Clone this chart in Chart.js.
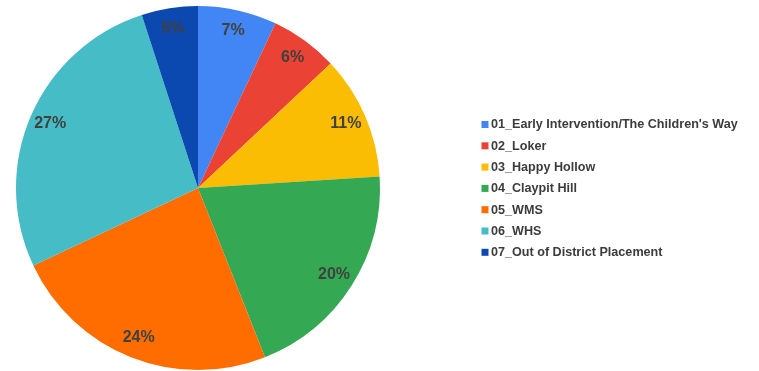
<!DOCTYPE html>
<html>
<head>
<meta charset="utf-8">
<script src="https://cdn.jsdelivr.net/npm/chart.js@4"></script>
<style>
  html, body { margin: 0; padding: 0; background: #ffffff; }
  #wrap { width: 759px; height: 371px; position: relative; }
</style>
</head>
<body>
<div id="wrap"><canvas id="chart" width="759" height="371"></canvas></div>
<script>
// Share of enrollment by school
const categories = [
  "01_Early Intervention/The Children's Way",
  "02_Loker",
  "03_Happy Hollow",
  "04_Claypit Hill",
  "05_WMS",
  "06_WHS",
  "07_Out of District Placement"
];
const shares = [7, 6, 11, 20, 24, 27, 5];
const sliceColors = ["#4285f4", "#ea4335", "#fbbc04", "#34a853", "#ff6d01", "#46bdc6", "#0b48b0"];

// Percent labels placed inside each slice, near the rim
const sliceLabels = {
  id: 'sliceLabels',
  afterDatasetsDraw(chart) {
    const ctx = chart.ctx;
    const meta = chart.getDatasetMeta(0);
    const total = shares.reduce((a, b) => a + b, 0);
    ctx.save();
    ctx.font = 'bold 16px "Liberation Sans", Arial, sans-serif';
    ctx.fillStyle = '#404040';
    ctx.textAlign = 'center';
    ctx.textBaseline = 'middle';
    meta.data.forEach((arc, i) => {
      const p = arc.getProps(['x', 'y', 'startAngle', 'endAngle', 'outerRadius'], true);
      const mid = (p.startAngle + p.endAngle) / 2;
      const r = p.outerRadius * 0.885;
      const pct = Math.round(shares[i] / total * 100) + '%';
      ctx.fillText(pct, p.x + Math.cos(mid) * r, p.y + Math.sin(mid) * r);
    });
    ctx.restore();
  }
};

// Legend drawn to the right of the pie
const sideLegend = {
  id: 'sideLegend',
  afterDraw(chart) {
    const ctx = chart.ctx;
    const boxX = 481.5, textX = 491, firstY = 124.5, step = 21.3, box = 7;
    ctx.save();
    ctx.font = 'bold 12.6px "Liberation Sans", Arial, sans-serif';
    ctx.textAlign = 'left';
    ctx.textBaseline = 'middle';
    chart.data.labels.forEach((label, i) => {
      const y = firstY + i * step;
      ctx.fillStyle = sliceColors[i];
      ctx.fillRect(boxX, y - box / 2, box, box);
      ctx.fillStyle = '#3c3c3c';
      ctx.fillText(label, textX, y + 0.5);
    });
    ctx.restore();
  }
};

new Chart(document.getElementById('chart'), {
  type: 'pie',
  data: {
    labels: categories,
    datasets: [{
      data: shares,
      backgroundColor: sliceColors,
      borderWidth: 0
    }]
  },
  options: {
    responsive: false,
    animation: false,
    events: [],
    layout: { padding: { left: 0, right: 363, top: 6, bottom: 1 } },
    plugins: {
      legend: { display: false },
      tooltip: { enabled: false }
    }
  },
  plugins: [sliceLabels, sideLegend]
});
</script>
</body>
</html>
